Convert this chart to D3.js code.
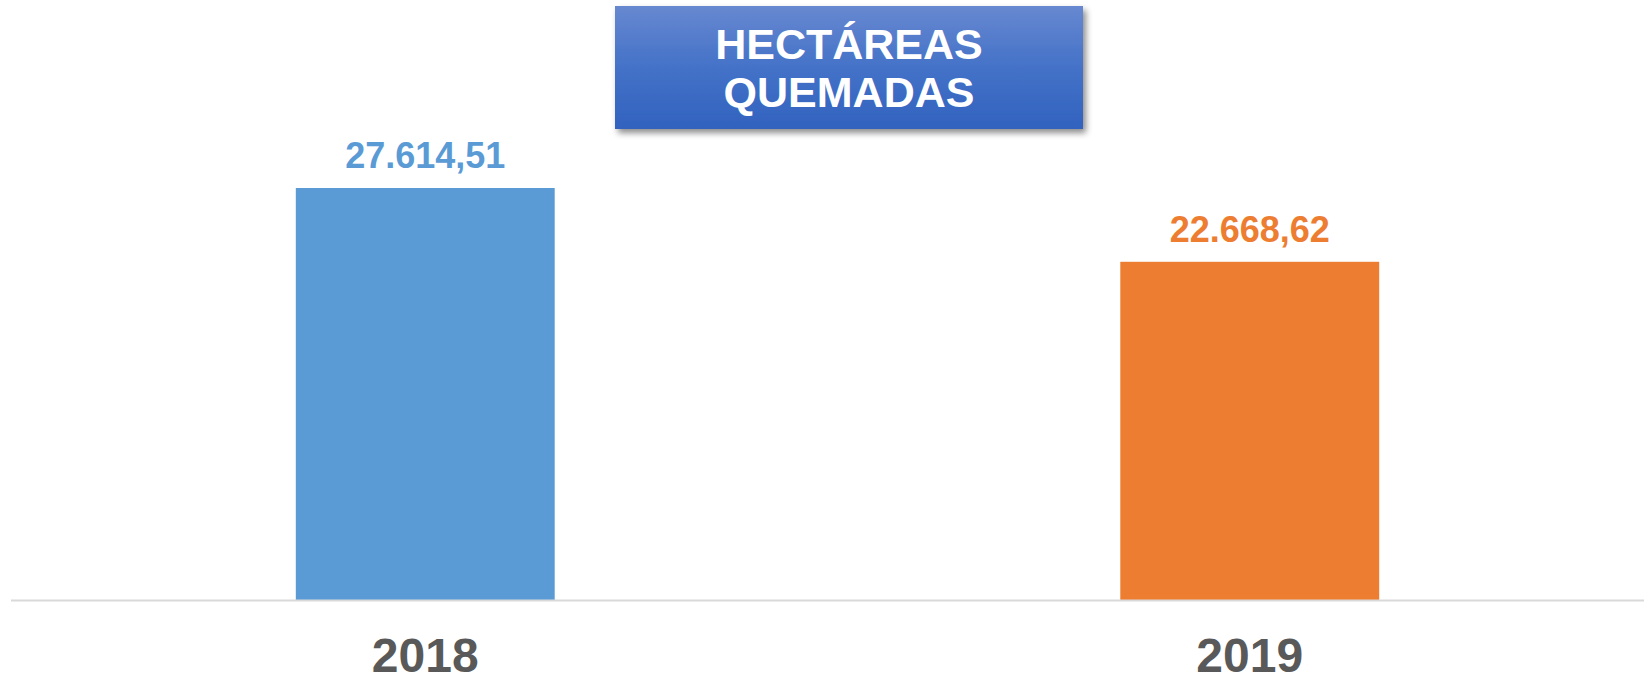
<!DOCTYPE html>
<html>
<head>
<meta charset="utf-8">
<script src="https://cdn.jsdelivr.net/npm/d3@7/dist/d3.min.js"></script>
<style>
  html, body { margin: 0; padding: 0; background: #fff; }
  svg { display: block; font-family: "Liberation Sans", Arial, sans-serif; }
</style>
</head>
<body>
<svg id="chart" width="1644" height="676"></svg>
<script>
const categories = ["2018", "2019"];
const values = [27614.51, 22668.62];
const valueLabels = ["27.614,51", "22.668,62"];
const colors = ["#5B9BD5", "#ED7D31"];
const titleLines = ["HECTÁREAS", "QUEMADAS"];

const svg = d3.select("#chart");
const W = 1644, H = 676;

const x = d3.scaleBand()
  .domain(categories)
  .range([13, 1662])
  .paddingInner(0.686)
  .paddingOuter(0.343);

const y = d3.scaleLinear()
  .domain([0, 30000])
  .range([600, 600 - 30000 * (412 / 27614.51)]);

// Bars
svg.selectAll("rect.bar")
  .data(values)
  .join("rect")
  .attr("class", "bar")
  .attr("x", (d, i) => x(categories[i]))
  .attr("width", x.bandwidth())
  .attr("y", d => y(d))
  .attr("height", d => y(0) - y(d))
  .attr("fill", (d, i) => colors[i]);

// Value labels
svg.selectAll("text.val")
  .data(values)
  .join("text")
  .attr("class", "val")
  .attr("x", (d, i) => x(categories[i]) + x.bandwidth() / 2)
  .attr("y", d => y(d) - 20)
  .attr("text-anchor", "middle")
  .attr("font-size", 36)
  .attr("font-weight", "bold")
  .attr("fill", (d, i) => colors[i])
  .text((d, i) => valueLabels[i]);

// Axis line
svg.append("line")
  .attr("x1", 11).attr("x2", W)
  .attr("y1", y(0) + 0.5).attr("y2", y(0) + 0.5)
  .attr("stroke", "#D9D9D9")
  .attr("stroke-width", 2);

// Category axis labels
const xAxis = d3.axisBottom(x).tickSize(0).tickPadding(0);
const gx = svg.append("g")
  .attr("transform", `translate(0, ${y(0)})`)
  .call(xAxis);
gx.select(".domain").remove();
gx.selectAll("text")
  .attr("y", 72)
  .attr("dy", null)
  .attr("font-size", 48)
  .attr("font-weight", "bold")
  .attr("font-family", "'Liberation Sans', Arial, sans-serif")
  .attr("fill", "#595959");

// Title box
const defs = svg.append("defs");
const grad = defs.append("linearGradient")
  .attr("id", "tgrad").attr("x1", 0).attr("y1", 0).attr("x2", 0).attr("y2", 1);
grad.append("stop").attr("offset", "0%").attr("stop-color", "#6788D0");
grad.append("stop").attr("offset", "50%").attr("stop-color", "#4472C8");
grad.append("stop").attr("offset", "100%").attr("stop-color", "#3162BE");

const filt = defs.append("filter").attr("id", "shadow")
  .attr("x", "-10%").attr("y", "-20%").attr("width", "120%").attr("height", "150%");
filt.append("feDropShadow")
  .attr("dx", 3).attr("dy", 4).attr("stdDeviation", 3)
  .attr("flood-color", "#000").attr("flood-opacity", 0.45);

svg.append("rect")
  .attr("x", 615).attr("y", 6)
  .attr("width", 468).attr("height", 123)
  .attr("fill", "url(#tgrad)")
  .attr("filter", "url(#shadow)");

svg.selectAll("text.title")
  .data(titleLines)
  .join("text")
  .attr("class", "title")
  .attr("x", 849)
  .attr("y", (d, i) => 59 + i * 48)
  .attr("text-anchor", "middle")
  .attr("font-size", 43)
  .attr("font-weight", "bold")
  .attr("fill", "#fff")
  .text(d => d);
</script>
</body>
</html>
